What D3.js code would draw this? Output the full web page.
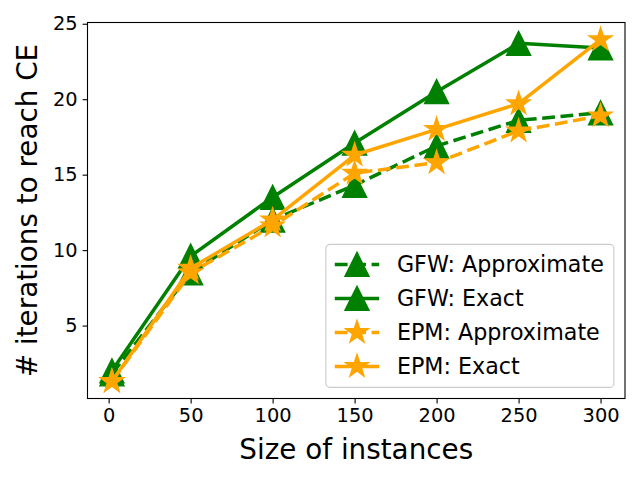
<!DOCTYPE html>
<html>
<head>
<meta charset="utf-8">
<script src="https://cdn.jsdelivr.net/npm/d3@7"></script>
<style>
  html, body { margin: 0; padding: 0; background: #fff; }
  svg { display: block; font-family: "DejaVu Sans", sans-serif; }
</style>
</head>
<body>
<svg id="chart" width="640" height="480"></svg>
<script>
// data
const sizes = [2, 50, 100, 150, 200, 250, 300];
const gfwApprox = [1.8, 8.5, 12.0, 14.3, 16.9, 18.6, 19.1];
const gfwExact = [2.0, 9.6, 13.5, 17.1, 20.5, 23.7, 23.4];
const epmApprox = [1.3, 8.5, 11.6, 15.1, 15.8, 17.9, 18.9];
const epmExact = [1.3, 8.8, 12.0, 16.3, 18.0, 19.7, 23.95];
const xTicks = [0, 50, 100, 150, 200, 250, 300];
const yTicks = [5, 10, 15, 20, 25];

const series = [
  { name: "GFW: Approximate", values: gfwApprox, color: "#008000", dashed: true, marker: "triangle" },
  { name: "GFW: Exact", values: gfwExact, color: "#008000", dashed: false, marker: "triangle" },
  { name: "EPM: Approximate", values: epmApprox, color: "#FFA500", dashed: true, marker: "star" },
  { name: "EPM: Exact", values: epmExact, color: "#FFA500", dashed: false, marker: "star" }
];

const width = 640, height = 480;
const margins = { top: 22.5, right: 15, bottom: 81.5, left: 87.5 };
const innerW = width - margins.left - margins.right;
const innerH = height - margins.top - margins.bottom;

const lineW = 3.5;
const markR = 12;

const svg = d3.select("#chart");

//* scales with matplotlib style 5% margins
const pad = (ext) => { const r = ext[1] - ext[0]; return [ext[0] - 0.05 * r, ext[1] + 0.05 * r]; };
const x = d3.scaleLinear().domain(pad(d3.extent(sizes))).range([0, innerW]);
const allY = series.flatMap(s => s.values);
const y = d3.scaleLinear().domain(pad(d3.extent(allY))).range([innerH, 0]);

// matplotlib '^' marker: half-size r box triangle
const triangleType = {
  draw(ctx, size) {
    const r = Math.sqrt(size);
    ctx.moveTo(0, -r);
    ctx.lineTo(r, r);
    ctx.lineTo(-r, r);
    ctx.closePath();
  }
};
const triSym = d3.symbol().type(triangleType).size(markR * markR);
const starSym = d3.symbol().type(d3.symbolStar).size(markR * markR / 0.8908130915292852);
const markerPath = m => m === "triangle" ? triSym() : starSym();

const g = svg.append("g").attr("transform", `translate(${margins.left},${margins.top})`);

svg.append("defs").append("clipPath").attr("id", "clip")
  .append("rect").attr("width", innerW).attr("height", innerH);

const plot = g.append("g").attr("clip-path", "url(#clip)");

const line = d3.line().x((d, i) => x(sizes[i])).y(d => y(d));

series.forEach(s => {
  const sg = plot.append("g");
  sg.append("path")
    .datum(s.values)
    .attr("d", line)
    .attr("fill", "none")
    .attr("stroke", s.color)
    .attr("stroke-width", lineW)
    .attr("stroke-dasharray", s.dashed ? "12.8,5.6" : null)
    .attr("stroke-linecap", "butt")
    .attr("stroke-linejoin", "round");
  sg.selectAll(".mk")
    .data(s.values)
    .join("path")
    .attr("class", "mk")
    .attr("transform", (d, i) => `translate(${x(sizes[i])},${y(d)})`)
    .attr("d", markerPath(s.marker))
    .attr("fill", s.color)
    .attr("stroke", s.color)
    .attr("stroke-width", 1.4)
    .attr("stroke-linejoin", "miter");
});

//* axes
const xAxis = g.append("g")
  .attr("transform", `translate(0,${innerH})`)
  .call(d3.axisBottom(x).tickValues(xTicks).tickSize(4.9).tickPadding(4.9).tickSizeOuter(0));
const yAxis = g.append("g")
  .call(d3.axisLeft(y).tickValues(yTicks).tickSize(4.9).tickPadding(4.9).tickSizeOuter(0));

[xAxis, yAxis].forEach(a => {
  a.select(".domain").remove();
  a.selectAll("line").attr("stroke", "#000").attr("stroke-width", 1.1);
  a.selectAll("text").attr("font-size", "19.4px").attr("fill", "#000")
    .attr("font-family", "DejaVu Sans");
});

g.append("rect")
  .attr("width", innerW).attr("height", innerH)
  .attr("fill", "none").attr("stroke", "#000").attr("stroke-width", 1.1);

svg.append("text")
  .attr("x", margins.left + innerW / 2)
  .attr("y", 459)
  .attr("text-anchor", "middle")
  .attr("font-size", "27.8px")
  .text("Size of instances");

svg.append("text")
  .attr("transform", `translate(37,${margins.top + innerH / 2}) rotate(-90)`)
  .attr("text-anchor", "middle")
  .attr("font-size", "27.8px")
  .text("# iterations to reach CE");

//* legend
const fs = 22.2;
const legW = 288, legH = 143;
const legX = margins.left + innerW - 0.5 * fs - legW;
const legY = margins.top + innerH - 0.5 * fs - legH;
const leg = svg.append("g").attr("transform", `translate(${legX},${legY})`);
leg.append("rect")
  .attr("width", legW).attr("height", legH)
  .attr("rx", 4).attr("ry", 4)
  .attr("fill", "#fff").attr("fill-opacity", 0.8)
  .attr("stroke", "#cccccc").attr("stroke-width", 1.1);

const rows = leg.selectAll(".row")
  .data(series)
  .join("g")
  .attr("class", "row")
  .attr("transform", (d, i) => `translate(0,${20 + i * 34})`);

const hx0 = 0.4 * fs, hx1 = hx0 + 2 * fs;
rows.append("line")
  .attr("x1", hx0).attr("x2", hx1)
  .attr("stroke", d => d.color)
  .attr("stroke-width", lineW)
  .attr("stroke-dasharray", d => d.dashed ? "12.8,5.6" : null);
rows.append("path")
  .attr("transform", `translate(${(hx0 + hx1) / 2},0)`)
  .attr("d", d => markerPath(d.marker))
  .attr("fill", d => d.color)
  .attr("stroke", d => d.color)
  .attr("stroke-width", 1.4);
rows.append("text")
  .attr("x", hx1 + 0.8 * fs)
  .attr("y", 0)
  .attr("dy", "0.36em")
  .attr("font-size", fs + "px")
  .text(d => d.name);
</script>
</body>
</html>
